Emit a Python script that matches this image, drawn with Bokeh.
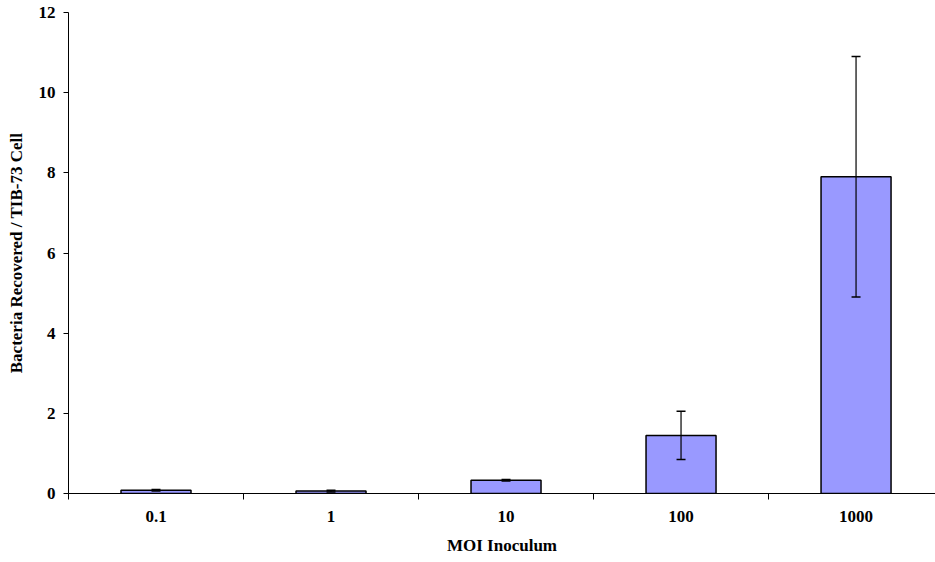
from bokeh.plotting import figure
from bokeh.models import ColumnDataSource, FixedTicker, Whisker, TeeHead, Range1d
from bokeh.embed import file_html
from bokeh.resources import INLINE

categories = ["0.1", "1", "10", "100", "1000"]
values = [0.08, 0.06, 0.33, 1.45, 7.9]
errors = [0.02, 0.02, 0.02, 0.6, 3.0]
y_ticks = [0, 2, 4, 6, 8, 10, 12]

xpos = [i + 0.5 for i in range(len(categories))]
src = ColumnDataSource(dict(
    x=xpos, top=values,
    upper=[v + e for v, e in zip(values, errors)],
    lower=[v - e for v, e in zip(values, errors)],
))

FONT = "Liberation Serif"

p = figure(width=935, height=562, output_backend="svg", toolbar_location=None,
           x_range=Range1d(0, 4.954), y_range=Range1d(0, 12),
           min_border_left=68, min_border_right=0, min_border_top=12, min_border_bottom=69)
p.outline_line_color = None
p.grid.visible = False
p.background_fill_color = "white"

p.vbar(x="x", top="top", width=0.4, bottom=0, source=src,
       fill_color="#9999FF", line_color="black", line_width=1.5)

w = Whisker(base="x", upper="upper", lower="lower", source=src,
            line_color="black", line_width=1.2, level="overlay",
            upper_head=TeeHead(size=9, line_color="black", line_width=1.5),
            lower_head=TeeHead(size=9, line_color="black", line_width=1.5))
p.add_layout(w)

xa = p.xaxis[0]
xa.ticker = FixedTicker(ticks=xpos, minor_ticks=list(range(len(categories) + 1)))
xa.major_label_overrides = {x: c for x, c in zip(xpos, categories)}
xa.major_tick_out = 0
xa.major_tick_in = 0
xa.minor_tick_out = 6
xa.minor_tick_in = 0
xa.minor_tick_line_color = "black"
xa.axis_line_color = "black"
xa.major_label_standoff = 11
xa.axis_label = "MOI Inoculum"
xa.axis_label_standoff = 11

ya = p.yaxis[0]
ya.ticker = FixedTicker(ticks=y_ticks, minor_ticks=[])
ya.major_tick_out = 5
ya.major_tick_in = 0
ya.minor_tick_out = 0
ya.axis_line_color = "black"
ya.major_tick_line_color = "black"
ya.major_label_standoff = 8
ya.axis_label = "Bacteria Recovered / TIB-73 Cell"
ya.axis_label_standoff = 10

for ax in (xa, ya):
    ax.major_label_text_font = FONT
    ax.major_label_text_font_style = "bold"
    ax.major_label_text_font_size = "17px"
    ax.major_label_text_color = "black"
    ax.axis_label_text_font = FONT
    ax.axis_label_text_font_style = "bold"
    ax.axis_label_text_font_size = "17px"
    ax.axis_label_text_color = "black"

open("out.html", "w").write(file_html(p, INLINE))
